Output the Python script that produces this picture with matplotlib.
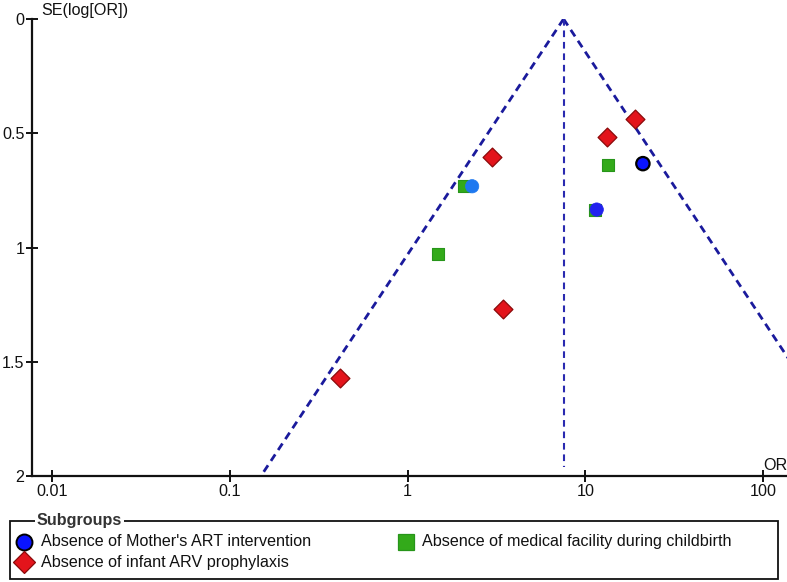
import numpy as np
import matplotlib
matplotlib.use("Agg")
import matplotlib.pyplot as plt
from matplotlib.patches import Rectangle

plt.rcParams['font.family'] = ['Liberation Sans', 'DejaVu Sans']

# ---- data ----
series_names = ["Absence of Mother's ART intervention",
                "Absence of infant ARV prophylaxis",
                "Absence of medical facility during childbirth"]

mother_or = [21.1, 2.31, 11.6]
mother_se = [0.633, 0.732, 0.834]

infant_or = [19.1, 13.2, 2.98, 3.44, 0.416]
infant_se = [0.437, 0.515, 0.604, 1.268, 1.572]

facility_or = [13.5, 2.07, 11.3, 1.48]
facility_se = [0.640, 0.731, 0.834, 1.03]

pooled_or = 7.55
x_ticks = [0.01, 0.1, 1, 10, 100]
x_ticklabels = ["0.01", "0.1", "1", "10", "100"]
y_ticks = [0, 0.5, 1, 1.5, 2]
y_ticklabels = ["0", "0.5", "1", "1.5", "2"]

# ---- figure ----
W, H = 787, 582
FS = 11.6
fig = plt.figure(figsize=(W / 100, H / 100), dpi=100)
ax = fig.add_axes([32 / W, 1 - 476 / H, (W - 32) / W, (476 - 19) / H])

ax.set_xscale('log')
ax.set_xlim(10 ** -2.1125, 10 ** 2.135)
ax.set_ylim(2, 0)

funnel_col = '#1a1a9c'
se_line = np.array([0.0, 2.0])
ax.plot(pooled_or * np.exp(-1.96 * se_line), se_line, color=funnel_col, lw=2.0,
        dashes=(2.8, 1.9), zorder=2)
ax.plot(pooled_or * np.exp(1.96 * se_line), se_line, color=funnel_col, lw=2.0,
        dashes=(2.8, 1.9), zorder=2)
ax.plot([pooled_or, pooled_or], [0, 1.96], color='#2a2ab0', lw=1.5,
        dashes=(3.2, 2.3), zorder=2)

ax.scatter(facility_or, facility_se, marker='s', s=9.0 ** 2,
           facecolor='#33aa1a', edgecolor='#27951a', linewidth=0.8, zorder=3)
ax.scatter(mother_or, mother_se, marker='o', s=9.6 ** 2,
           facecolor=['#0a14ff', '#1e78f0', '#2222ee'],
           edgecolor=['#000000', '#1e78f0', '#2222ee'],
           linewidth=[1.6, 0.5, 0.5], zorder=4)
ax.scatter(infant_or, infant_se, marker='D', s=9.6 ** 2,
           facecolor='#e3141b', edgecolor='#8b0a0a', linewidth=0.9, zorder=3)

for s in ['top', 'right']:
    ax.spines[s].set_visible(False)
for s in ['left', 'bottom']:
    ax.spines[s].set_linewidth(1.6)
    ax.spines[s].set_color('#111111')

ax.set_xticks(x_ticks)
ax.set_xticklabels(x_ticklabels)
ax.xaxis.set_minor_locator(matplotlib.ticker.NullLocator())
ax.set_yticks(y_ticks)
ax.set_yticklabels(y_ticklabels)
ax.tick_params(axis='x', direction='inout', length=9, width=1.4, pad=1.5,
               labelsize=FS, colors='#111111')
ax.tick_params(axis='y', direction='inout', length=8, width=1.4, pad=1.5,
               labelsize=FS, colors='#111111')

fig.text(41 / W, 1 - 10 / H, "SE(log[OR])", fontsize=FS, ha='left', va='center',
         color='#111111')
fig.text(1.0, 1 - 465 / H, "OR", fontsize=FS, ha='right', va='center',
         color='#111111')

# ---- legend (drawn in pixel coordinates) ----
lg = fig.add_axes([0, 0, 1, 1], facecolor='none')
lg.set_xlim(0, W)
lg.set_ylim(H, 0)
lg.axis('off')
lg.add_patch(Rectangle((10, 521), 768, 58, fill=False, edgecolor='#111111', lw=1.3))
lg.text(37, 521, "Subgroups", fontsize=FS, fontweight='bold', ha='left', va='center',
        color='#333333', bbox=dict(facecolor='white', edgecolor='none', pad=1.5))
lg.plot([24], [541.7], marker='o', ms=11.5, mfc='#0a14ff', mec='#000000', mew=1.4)
lg.text(41, 541.7, series_names[0], fontsize=FS, ha='left', va='center', color='#111111')
lg.plot([24], [562.3], marker='D', ms=11, mfc='#e3141b', mec='#8b0a0a', mew=0.9)
lg.text(41, 562.3, series_names[1], fontsize=FS, ha='left', va='center', color='#111111')
lg.plot([406], [541.7], marker='s', ms=11, mfc='#33aa1a', mec='#27951a', mew=0.9)
lg.text(422, 541.7, series_names[2], fontsize=FS, ha='left', va='center', color='#111111')

fig.savefig("out.png", dpi=100)
